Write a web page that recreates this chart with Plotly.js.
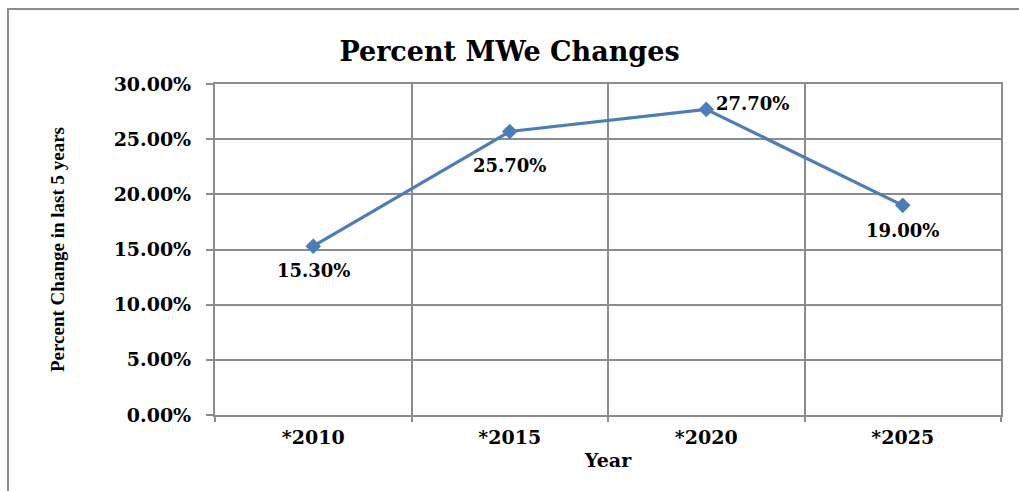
<!DOCTYPE html>
<html>
<head>
<meta charset="utf-8">
<script src="https://cdn.plot.ly/plotly-3.0.1.min.js"></script>
<style>
  html, body { margin: 0; padding: 0; background: #fff; }
  #chart { width: 1019px; height: 491px; }
</style>
</head>
<body>
<div id="chart"></div>
<script>
const years = ['*2010', '*2015', '*2020', '*2025'];
const pctChange = [0.153, 0.257, 0.277, 0.190];
const yTickVals = [0, 0.05, 0.10, 0.15, 0.20, 0.25, 0.30];

// label placement styles (pixels), one per point
const labelStyle = [
  { xanchor: 'center', xshift: 0, yshift: -24 },
  { xanchor: 'center', xshift: 0, yshift: -34 },
  { xanchor: 'left', xshift: 8, yshift: 6 },
  { xanchor: 'center', xshift: 0, yshift: -25 }
];

const serif = 'DejaVu Serif, Liberation Serif, serif';
const grid = '#8c8c8c';
const blue = '#4a7ebb';

const trace = {
  type: 'scatter',
  mode: 'lines+markers',
  x: years,
  y: pctChange,
  line: { color: blue, width: 3.2 },
  marker: { symbol: 'diamond', size: 12, color: blue },
  cliponaxis: false,
  hoverinfo: 'skip'
};

const annotations = years.map((yr, i) => Object.assign({
  x: yr, y: pctChange[i], xref: 'x', yref: 'y',
  text: '<b>' + (pctChange[i] * 100).toFixed(2) + '%</b>',
  showarrow: false, yanchor: 'middle',
  font: { family: serif, size: 18, color: '#000' }
}, labelStyle[i]));

const L = 215, R = 18, T = 84, B = 76, W = 1019, H = 491;
const pw = W - L - R, ph = H - T - B;

const layout = {
  width: W, height: H,
  margin: { l: L, r: R, t: T, b: B, pad: 0 },
  paper_bgcolor: '#fff',
  plot_bgcolor: '#fff',
  showlegend: false,
  title: {
    text: '<b>Percent MWe Changes</b>',
    font: { family: serif, size: 27, color: '#000' },
    x: 0.5, xanchor: 'center',
    y: 1 - 52 / H, yanchor: 'middle', yref: 'container'
  },
  xaxis: {
    type: 'category',
    range: [-0.5, 3.5],
    tickson: 'boundaries',
    ticks: 'outside', ticklen: 5, tickcolor: grid, tickwidth: 2,
    showgrid: true, gridcolor: grid, gridwidth: 2,
    showline: true, linecolor: grid, linewidth: 2, mirror: true,
    zeroline: false,
    tickfont: { family: serif, size: 19, color: '#000', weight: 'bold' },
    ticklabelstandoff: 4,
    title: {
      text: '<b>Year</b>',
      font: { family: serif, size: 19, color: '#000' },
      standoff: 7
    },
    fixedrange: true
  },
  yaxis: {
    range: [0, 0.30],
    tickvals: yTickVals,
    tickformat: '.2%',
    ticks: 'outside', ticklen: 7, tickcolor: grid, tickwidth: 2,
    showgrid: true, gridcolor: grid, gridwidth: 2,
    showline: true, linecolor: grid, linewidth: 2, mirror: true,
    zeroline: false,
    tickfont: { family: serif, size: 19, color: '#000', weight: 'bold' },
    ticklabelstandoff: 11,
    title: {
      text: '<b>Percent Change in last 5 years</b>',
      font: { family: 'Liberation Serif, serif', size: 19, color: '#000' },
      standoff: 44
    },
    fixedrange: true
  },
  annotations: annotations,
  shapes: [{
    type: 'rect', xref: 'paper', yref: 'paper',
    x0: (8 - L) / pw, x1: 1.2,
    y0: -0.5, y1: (H - B - 9) / ph,
    line: { color: '#8c8c8c', width: 2 },
    fillcolor: 'rgba(0,0,0,0)', layer: 'below'
  }]
};

Plotly.newPlot('chart', [trace], layout, { displayModeBar: false, staticPlot: true });
</script>
</body>
</html>
